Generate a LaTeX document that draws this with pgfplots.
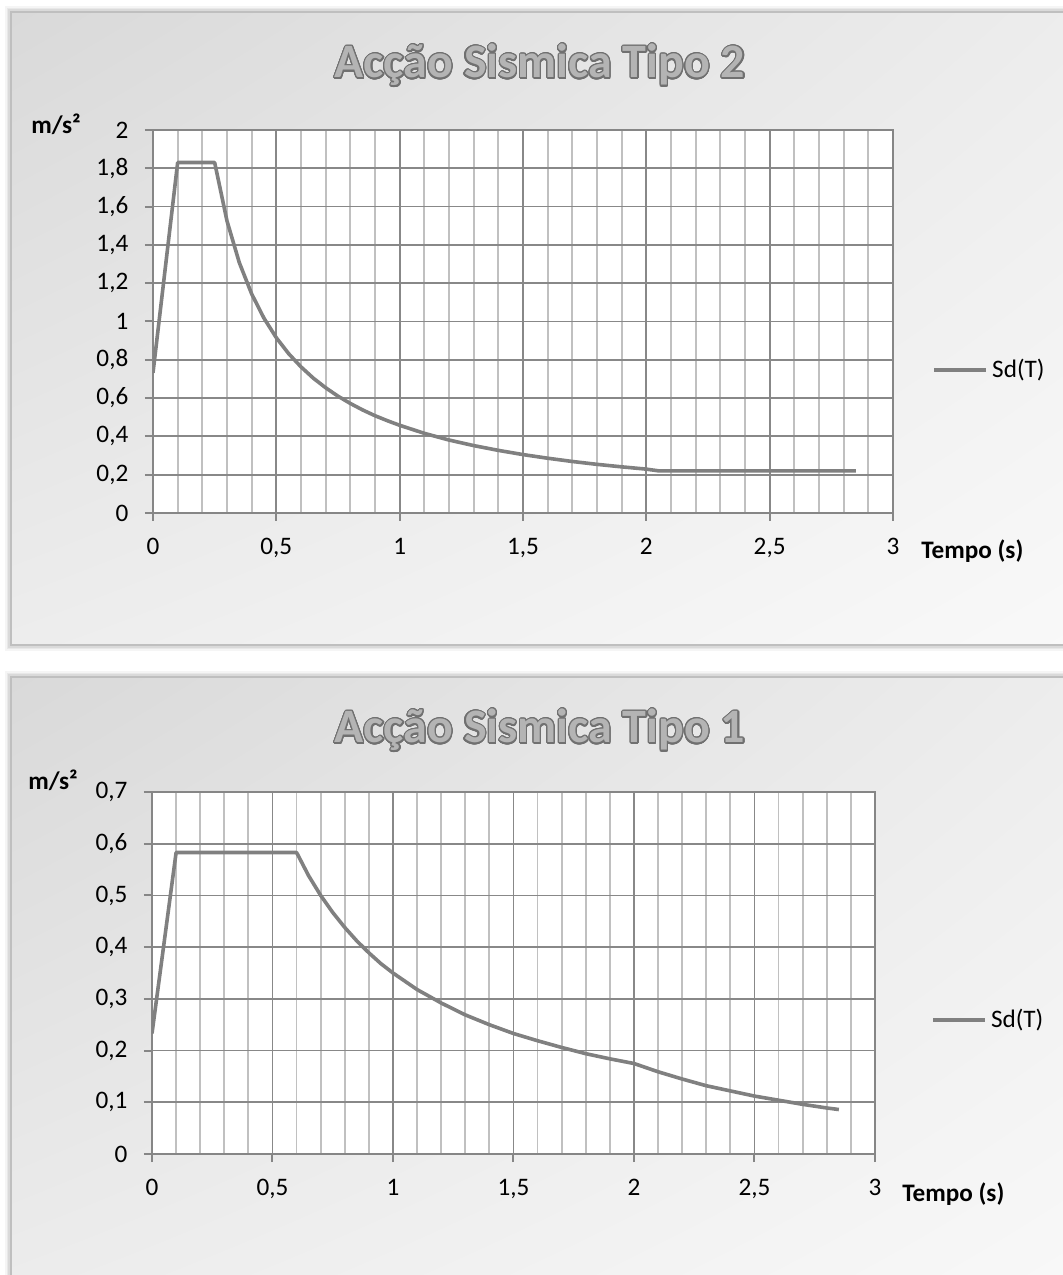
\documentclass[border=0pt]{standalone}
\usepackage{fontspec}
\setmainfont{Carlito}
\usepackage{pgfplots}
\pgfplotsset{compat=1.18}
\usetikzlibrary{shadings}
\usepackage{contour}
\contourlength{0.6pt}
\contournumber{24}
\definecolor{panelborder}{HTML}{BFBFBF}
\definecolor{gridmaj}{HTML}{888888}
\definecolor{gridmin}{HTML}{C0C0C0}
\definecolor{axisc}{HTML}{868686}
\definecolor{curve}{HTML}{808080}
\definecolor{titlefill}{HTML}{B4B4B4}
\definecolor{titleline}{HTML}{707070}
\definecolor{bgA}{HTML}{D9D9D9}
\definecolor{bgB}{HTML}{EDEDED}
\definecolor{bgC}{HTML}{F9F9F9}

\pgfplotsset{
  sd/.style={
    scale only axis,
    xmin=0, xmax=3, ymin=0,
    xtick={0,0.5,1,1.5,2,2.5,3},
    minor x tick num=4,
    xmajorgrids, ymajorgrids, xminorgrids,
    major grid style={draw=gridmaj, line width=0.9pt},
    minor grid style={draw=gridmin, line width=0.9pt},
    axis line style={draw=axisc, line width=1pt},
    every tick/.style={draw=axisc, line width=1pt},
    tick align=outside,
    tick pos=left,
    major tick length=4pt,
    minor tick length=0pt,
    ticklabel style={font=\fontsize{12.6}{15}\selectfont, text=black},
    /pgf/number format/use comma,
    /pgf/number format/assume math mode=true,
    /pgf/number format/1000 sep={},
    axis background/.style={fill=white},
    xticklabel style={yshift=-5pt},
    yticklabel style={xshift=-4.8pt},
    xlabel={\textbf{Tempo (s)}},
    xlabel style={at={(rel axis cs:1,0)}, anchor=west, inner sep=0pt,
      xshift=14pt, yshift=-19pt, font=\fontsize{12.6}{15}\selectfont},
    ylabel={\textbf{m/s²}},
    ylabel style={at={(rel axis cs:0,1)}, rotate=-90, anchor=east, inner sep=0pt,
      xshift=-36pt, yshift=3pt, font=\fontsize{12.6}{15}\selectfont},
    legend image code/.code={\draw[#1] (0pt,0pt) -- (26pt,0pt);},
    legend style={draw=none, fill=none, inner sep=0pt, anchor=west,
      font=\fontsize{12.6}{15}\selectfont, nodes={inner xsep=2pt, inner ysep=1pt}},
    sdline/.style={draw=curve, line width=1.8pt, no marks, line join=round},
  }
}

\begin{document}
\begin{tikzpicture}
\path[use as bounding box] (0,0) rectangle (531.5pt,637.5pt);
\begin{scope}
\clip (0,0) rectangle (531.5pt,637.5pt);
\fill[white] (0,0) rectangle (531.5pt,637.5pt);
% soft shadows
\foreach \d/\o in {3pt/0.04,2.2pt/0.05,1.5pt/0.06} {
  \fill[black, opacity=\o] (5.5pt-\d,315pt-\d) rectangle (545pt+\d,631.5pt+\d);
  \fill[black, opacity=\o] (5.5pt-\d,-20pt-\d) rectangle (545pt+\d,299pt+\d);
}
% panel 1
\shade[upper left=bgA, upper right=bgB, lower left=bgB, lower right=bgC]
  (5.5pt,315pt) rectangle (545pt,631.5pt);
\draw[panelborder, line width=1.2pt] (5.5pt,315pt) rectangle (545pt,631.5pt);
% panel 2
\shade[upper left=bgA, upper right=bgB, lower left=bgB, lower right=bgC]
  (5.5pt,-20pt) rectangle (545pt,299pt);
\draw[panelborder, line width=1.2pt] (5.5pt,-20pt) rectangle (545pt,299pt);
\end{scope}

\node[anchor=base, text=titlefill, font=\fontsize{24}{28}\selectfont\bfseries]
  at (270pt,598.5pt) {\contour{titleline}{Acção Sismica Tipo 2}};
\node[anchor=base, text=titlefill, font=\fontsize{24}{28}\selectfont\bfseries]
  at (270pt,266pt) {\contour{titleline}{Acção Sismica Tipo 1}};

% chart 1: Tipo 2
\begin{axis}[sd, at={(76.5pt,381pt)}, anchor=south west,
  width=370pt, height=191.5pt, ymax=2,
  ytick={0,0.2,0.4,0.6,0.8,1,1.2,1.4,1.6,1.8,2},
  legend style={at={(1.053,0.373)}}]
\addplot[sdline] coordinates {
(0,0.732)(0.1,1.83)(0.25,1.83)(0.3,1.525)(0.35,1.307)(0.4,1.144)(0.45,1.017)
(0.5,0.915)(0.55,0.832)(0.6,0.763)(0.65,0.704)(0.7,0.654)(0.75,0.610)(0.8,0.572)
(0.85,0.538)(0.9,0.508)(0.95,0.482)(1,0.458)(1.1,0.416)(1.2,0.381)(1.3,0.352)
(1.4,0.327)(1.5,0.305)(1.6,0.286)(1.7,0.269)(1.8,0.254)(1.9,0.241)(2,0.229)
(2.05,0.22)(2.85,0.22)};
\addlegendentry{Sd(T)}
\end{axis}

% chart 2: Tipo 1
\begin{axis}[sd, at={(76pt,60.5pt)}, anchor=south west,
  width=361.5pt, height=181pt, ymax=0.7,
  ytick={0,0.1,0.2,0.3,0.4,0.5,0.6,0.7},
  xlabel style={xshift=-0.5pt, yshift=-1pt},
  ylabel style={xshift=-1pt, yshift=3pt},
  legend style={at={(1.0775,0.370)}}]
\addplot[sdline] coordinates {
(0,0.233)(0.1,0.583)(0.6,0.583)(0.65,0.538)(0.7,0.5)(0.75,0.467)(0.8,0.438)
(0.85,0.412)(0.9,0.389)(0.95,0.368)(1,0.35)(1.1,0.318)(1.2,0.292)(1.3,0.269)
(1.4,0.25)(1.5,0.233)(1.6,0.219)(1.7,0.206)(1.8,0.194)(1.9,0.184)(2,0.175)
(2.1,0.159)(2.2,0.145)(2.3,0.132)(2.4,0.122)(2.5,0.112)(2.6,0.104)(2.7,0.096)
(2.8,0.089)(2.85,0.086)};
\addlegendentry{Sd(T)}
\end{axis}
\end{tikzpicture}
\end{document}
